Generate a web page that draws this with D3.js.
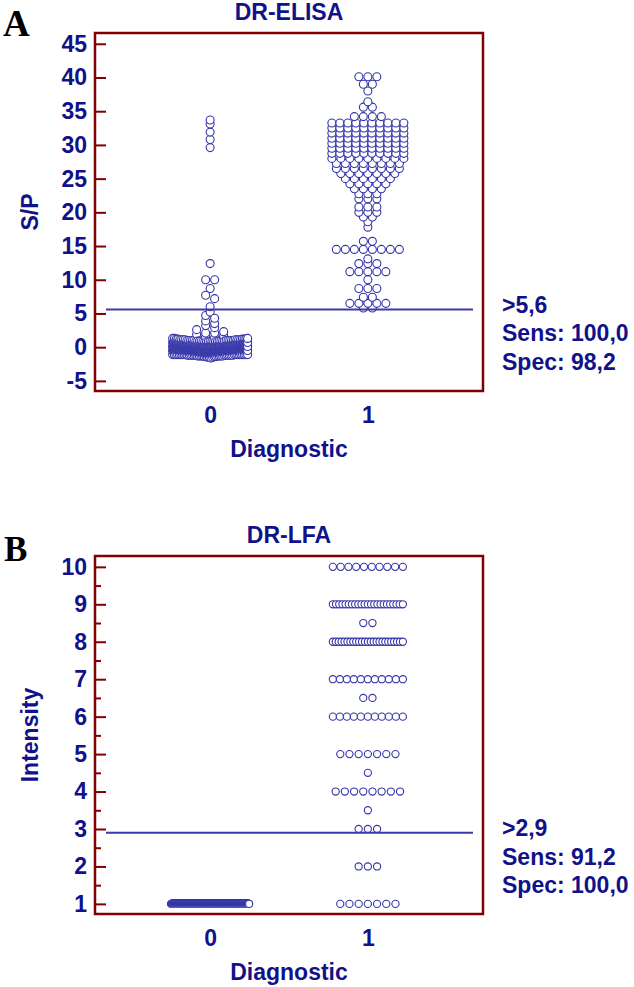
<!DOCTYPE html>
<html><head><meta charset="utf-8">
<script src="https://cdn.jsdelivr.net/npm/d3@7/dist/d3.min.js"></script>
<style>
body{margin:0;background:#fff;}
svg{display:block;font-family:"Liberation Sans",Arial,sans-serif;}
</style>
</head><body>
<svg id="chart" width="634" height="987"></svg>
<script>
// ---------------- DATA ----------------
const groups = [0, 1];
const groupLabels = ["0", "1"];

// Panel A: DR-ELISA (S/P) (level, number of dots)
const elisaNegLevels = [-1.6,-1.5,-1.4,-1.3,-1.2,-1.1,-1.0,-0.9,-0.8,-0.7,-0.6,-0.5,-0.4,-0.3,-0.2,-0.1,0.0,0.1,0.2,0.3,0.4,0.5,0.6,0.7,0.8,0.9,1.0,1.1,1.2,1.3,
  1.4,1.5,1.7,1.9,2.1,2.3,2.6,2.9,3.2,3.5,3.9,4.3,4.7,5.2,6.0,7.2,7.7,8.7,10.0,12.4,29.6,30.8,31.9,33.1,33.7];
const elisaNegCounts = [1,3,4,8,12,18,25,30,35,38,40,40,40,38,36,34,32,28,25,22,18,15,13,11,9,8,10,8,5,3,
  1,1,1,1,2,1,1,1,1,1,1,1,1,1,1,1,1,1,2,1,1,1,1,1,1];
const elisaPosLevels = [5.8,6.5,7.4,8.7,10.0,11.2,12.4,13.1,14.5,15.7,17.8,18.6,19.3,20.0,20.8,22.0,22.75,23.5,24.25,25.0,25.75,26.5,27.25,28.0,28.75,29.5,30.25,31.0,31.75,32.5,33.25,34.2,35.6,36.4,38.0,39.0,40.1];
const elisaPosCounts = [2,5,2,3,1,5,3,1,8,2,1,1,2,3,3,3,3,4,5,6,7,8,8,9,10,10,10,10,10,10,10,4,2,1,1,2,3];
const elisaTicks = [-5,0,5,10,15,20,25,30,35,40,45];
const elisaCut = 5.6;
const elisaStats = [">5,6", "Sens: 100,0", "Spec: 98,2"];

// Panel B: DR-LFA (Intensity)
const lfaNegLevels = [1];
const lfaNegCounts = [600];
const lfaPosLevels = [1,2,3,3.5,4,4.5,5,6,6.5,7,8,8.5,9,10];
const lfaPosCounts = [7,3,3,1,8,1,7,11,2,11,25,2,23,10];
const lfaTicks = [1,2,3,4,5,6,7,8,9,10];
const lfaMinorTicks = [1.5,2.5,3.5,4.5,5.5,6.5,7.5,8.5,9.5];
const lfaCut = 2.9;
const lfaStats = [">2,9", "Sens: 91,2", "Spec: 100,0"];

// ---------------- STYLE ----------------
const NAVY = "#11118a";
const DOT = "#3535a8";
const FRAME = "#800000";
const FS = 23;

const svg = d3.select("#chart");

function layout(levels, counts, cx, yS, spacing, halfW, winPx, globalSort) {
  const vals = [];
  levels.forEach((v, i) => { for (let k = 0; k < counts[i]; k++) vals.push(v); });
  vals.sort((a, b) => a - b);
  const rows = [];
  let i = 0;
  while (i < vals.length) {
    const y0 = yS(vals[i]);
    let j = i;
    while (j < vals.length && y0 - yS(vals[j]) < winPx) j++;
    const row = vals.slice(i, j);
    const n = row.length;
    const sp = n > 1 ? Math.min(spacing, 2 * halfW / (n - 1)) : 0;
    const slots = d3.range(n).map(k => (k - (n - 1) / 2) * sp);
    const order = d3.range(n).sort((a, b) => Math.abs(slots[a]) - Math.abs(slots[b]) || slots[b] - slots[a]);
    const pts = row.map((v, k) => ({ x: cx + slots[order[k]], y: yS(v) }));
    pts.sort((a, b) => a.x - b.x);
    rows.push(pts);
    i = j;
  }
  const all = rows.flat();
  if (globalSort) all.sort((a, b) => a.x - b.x);
  return all;
}

function panel(cfg) {
  const left = 95, right = 483, top = cfg.top, bottom = cfg.top + 358;
  const cxm = (left + right) / 2;
  const x = d3.scaleLinear().domain([-0.73, 1.73]).range([left, right]);
  const y = d3.scaleLinear().domain(cfg.yDomain).range([bottom, top]);
  const g = svg.append("g");

  // letter
  g.append("text").attr("x", cfg.letterX).attr("y", cfg.letterY)
    .attr("font-family", "'Liberation Serif','Times New Roman',serif")
    .attr("font-weight", "bold").attr("font-size", cfg.letterSize).attr("fill", "#000")
    .text(cfg.letter);

  // title
  g.append("text").attr("x", cxm).attr("y", top - 13).attr("text-anchor", "middle")
    .attr("font-weight", "bold").attr("font-size", FS).attr("fill", NAVY).text(cfg.title);

  // y axis (ticks inward)
  const ya = g.append("g").attr("transform", `translate(${left},0)`)
    .call(d3.axisLeft(y).tickValues(cfg.ticks).tickFormat(d => String(d)).tickSize(-11).tickPadding(8));
  ya.select(".domain").remove();
  ya.selectAll("line").attr("stroke", FRAME).attr("stroke-width", 2);
  ya.selectAll("text").attr("font-size", FS).attr("font-weight", "bold").attr("fill", NAVY)
    .attr("font-family", "'Liberation Sans',Arial,sans-serif");
  if (cfg.minor) {
    const ym = g.append("g").attr("transform", `translate(${left},0)`)
      .call(d3.axisLeft(y).tickValues(cfg.minor).tickSize(-6).tickFormat(""));
    ym.select(".domain").remove();
    ym.selectAll("line").attr("stroke", FRAME).attr("stroke-width", 2);
  }

  // x axis labels
  const xa = g.append("g").attr("transform", `translate(0,${bottom})`)
    .call(d3.axisBottom(x).tickValues(groups).tickFormat((d, i) => groupLabels[i]).tickSize(0).tickPadding(16));
  xa.select(".domain").remove();
  xa.selectAll("text").attr("font-size", FS).attr("font-weight", "bold").attr("fill", NAVY)
    .attr("font-family", "'Liberation Sans',Arial,sans-serif");

  // axis titles
  g.append("text").attr("x", cxm).attr("y", bottom + 66).attr("text-anchor", "middle")
    .attr("font-weight", "bold").attr("font-size", FS).attr("fill", NAVY).text("Diagnostic");
  g.append("text").attr("transform", `translate(38,${(top + bottom) / 2}) rotate(-90)`)
    .attr("text-anchor", "middle").attr("font-weight", "bold").attr("font-size", FS)
    .attr("fill", NAVY).text(cfg.ylabel);

  // dots
  const negPts = layout(cfg.negLevels, cfg.negCounts, x(0), y, cfg.spacing, cfg.halfW0, 4, true);
  const posPts = layout(cfg.posLevels, cfg.posCounts, x(1), y, cfg.spacing, cfg.halfW1, 4, false);
  g.append("g").selectAll("circle").data(negPts.concat(posPts)).join("circle")
    .attr("cx", d => d.x).attr("cy", d => d.y).attr("r", cfg.r)
    .attr("fill", "#fff").attr("stroke", DOT).attr("stroke-width", 1.1);

  // cut-off line
  g.append("line").attr("x1", left + 11).attr("x2", right - 10)
    .attr("y1", y(cfg.cut)).attr("y2", y(cfg.cut))
    .attr("stroke", "#3a3aa8").attr("stroke-width", 2);

  // frame
  g.append("rect").attr("x", left).attr("y", top).attr("width", right - left).attr("height", bottom - top)
    .attr("fill", "none").attr("stroke", FRAME).attr("stroke-width", 2.5);

  // stats
  g.append("g").selectAll("text").data(cfg.stats).join("text")
    .attr("x", 502).attr("y", (d, i) => y(cfg.cut) + 3.5 + i * 28.5)
    .attr("font-weight", "bold").attr("font-size", FS).attr("fill", NAVY).text(d => d);
}

panel({
  top: 33, letter: "A", letterX: 3, letterY: 36, letterSize: 37, title: "DR-ELISA",
  yDomain: [-6.5, 46.6], ticks: elisaTicks, minor: null, ylabel: "S/P",
  negLevels: elisaNegLevels, negCounts: elisaNegCounts,
  posLevels: elisaPosLevels, posCounts: elisaPosCounts,
  cut: elisaCut, stats: elisaStats, r: 4, spacing: 9, halfW0: 37.5, halfW1: 36
});

panel({
  top: 556, letter: "B", letterX: 4, letterY: 561, letterSize: 35, title: "DR-LFA",
  yDomain: [0.73, 10.29], ticks: lfaTicks, minor: lfaMinorTicks, ylabel: "Intensity",
  negLevels: lfaNegLevels, negCounts: lfaNegCounts,
  posLevels: lfaPosLevels, posCounts: lfaPosCounts,
  cut: lfaCut, stats: lfaStats, r: 3.6, spacing: 9.2, halfW0: 39, halfW1: 35
});
</script>
</body></html>
